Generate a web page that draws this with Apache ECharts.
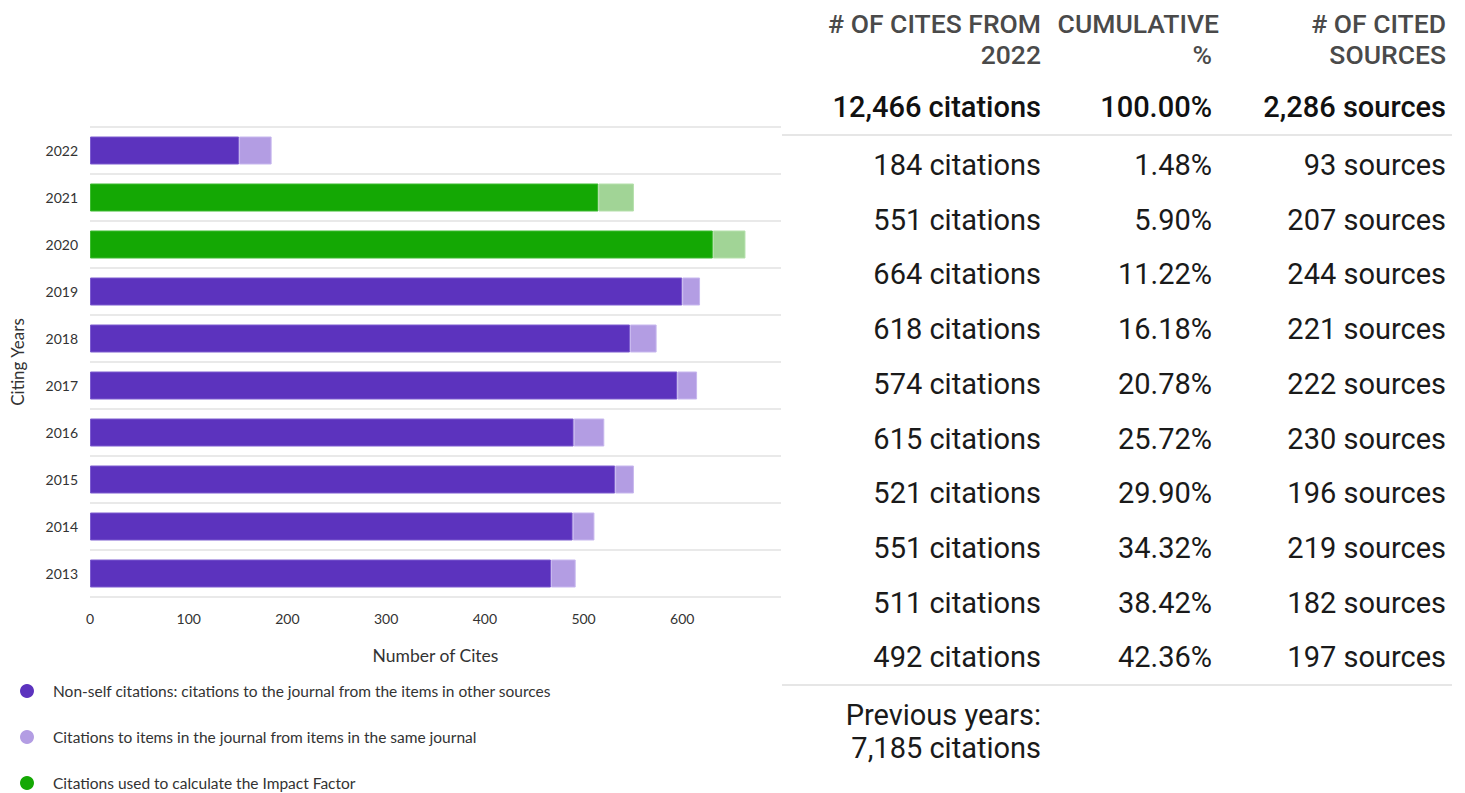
<!DOCTYPE html>
<html>
<head>
<meta charset="utf-8">
<style>
  html, body { margin: 0; padding: 0; background: #fff; }
  #chart { width: 1465px; height: 793px; }
</style>
<script src="https://cdn.jsdelivr.net/npm/echarts@6/dist/echarts.min.js"></script>
</head>
<body>
<div id="chart"></div>
<script>
// Citing years, listed top to bottom
const years = ['2022', '2021', '2020', '2019', '2018', '2017', '2016', '2015', '2014', '2013'];
// Total cites from 2022 to each year
const totalCites = [184, 551, 664, 618, 574, 615, 521, 551, 511, 492];
// Non-self citations per year
const nonSelfCites = [151, 515, 631, 600, 547, 595, 490, 532, 489, 467];
// Years counted in the Impact Factor
const impactYears = ['2021', '2020'];
// Table columns
const cumulativePct = ['1.48%', '5.90%', '11.22%', '16.18%', '20.78%', '25.72%', '29.90%', '34.32%', '38.42%', '42.36%'];
const citedSources = [93, 207, 244, 221, 222, 230, 196, 219, 182, 197];
const totalRow = ['12,466 citations', '100.00%', '2,286 sources'];
const previousYears = ['Previous years:', '7,185 citations'];
const xTicks = [0, 100, 200, 300, 400, 500, 600, 700];

const seriesNames = [
  'Non-self citations: citations to the journal from the items in other sources',
  'Citations to items in the journal from items in the same journal',
  'Citations used to calculate the Impact Factor'
];

const DARK_PURPLE = '#5c33be', LIGHT_PURPLE = '#b39de3';
const DARK_GREEN = '#14a804', LIGHT_GREEN = '#a1d496';

const selfCites = totalCites.map((t, i) => t - nonSelfCites[i]);

function styled(values, base, impact, border, impactBorder) {
  return values.map((v, i) => {
    const isImpact = impactYears.includes(years[i]);
    return {
      value: v,
      itemStyle: {
        color: isImpact ? impact : base,
        borderColor: isImpact ? impactBorder : border,
        borderWidth: 1
      }
    };
  });
}

const chart = echarts.init(document.getElementById('chart'), null, { renderer: 'svg' });

// Table on the right side
const FONT = 'Roboto, sans-serif';
const colRight = [1041, 1212, 1446];
const graphics = [];
function txt(s, x, y, size, color, weight) {
  graphics.push({
    type: 'text',
    style: {
      text: s, x: x, y: y, align: 'right', verticalAlign: 'middle',
      fontFamily: FONT, fontSize: size, fontWeight: weight || 'normal', fill: color
    }
  });
}
function hline(y) {
  graphics.push({
    type: 'line',
    shape: { x1: 782, y1: y, x2: 1452, y2: y },
    style: { stroke: '#e6e6e6', lineWidth: 2 }
  });
}
const HEAD = '#4a4a4a';
const BODY = '#1a1a1a';
txt('# OF CITES FROM', colRight[0], 23, 26.5, HEAD, 500);
txt('2022', colRight[0], 54, 26.5, HEAD, 500);
txt('CUMULATIVE', 1219, 23, 26.5, HEAD, 500);
txt('%', colRight[1], 54, 26.5, HEAD, 500);
txt('# OF CITED', colRight[2], 23, 26.5, HEAD, 500);
txt('SOURCES', colRight[2], 54, 26.5, HEAD, 500);
totalRow.forEach((s, c) => txt(s, colRight[c], 107, 29, '#111', 500));
hline(135);
years.forEach((y, i) => {
  const yy = 165 + i * 54.7;
  txt(totalCites[i] + ' citations', colRight[0], yy, 29, BODY);
  txt(cumulativePct[i], colRight[1], yy, 29, BODY);
  txt(citedSources[i] + ' sources', colRight[2], yy, 29, BODY);
});
hline(685);
txt(previousYears[0], colRight[0], 715, 29, BODY);
txt(previousYears[1], colRight[0], 748, 29, BODY);

const AX = '#333';
const CF = 'Lato, sans-serif';

chart.setOption({
  animation: false,
  textStyle: { fontFamily: CF },
  grid: { left: 90, right: 684, top: 127, bottom: 196, containLabel: false },
  legend: {
    orient: 'vertical',
    left: 20,
    top: 683,
    height: 140,
    padding: 0,
    itemWidth: 14,
    itemHeight: 14,
    itemGap: 30,
    icon: 'circle',
    selectedMode: false,
    data: seriesNames,
    textStyle: { fontFamily: CF, fontSize: 15.5, color: '#333', padding: [0, 0, 0, 14], lineHeight: 14 }
  },
  xAxis: {
    type: 'value',
    min: xTicks[0],
    max: xTicks[xTicks.length - 1],
    interval: 100,
    name: 'Number of Cites',
    nameLocation: 'middle',
    nameGap: 49,
    nameTextStyle: { fontFamily: CF, fontSize: 17.5, color: AX },
    axisLine: { show: false },
    axisTick: { show: false },
    splitLine: { show: false },
    axisLabel: { fontFamily: CF, fontSize: 14, color: AX, margin: 14, showMaxLabel: false }
  },
  yAxis: {
    type: 'category',
    data: years,
    inverse: true,
    name: 'Citing Years',
    nameLocation: 'middle',
    nameGap: 64,
    nameTextStyle: { fontFamily: CF, fontSize: 17, color: AX },
    axisLine: { show: false },
    axisTick: { show: false },
    splitLine: { show: true, interval: 0, lineStyle: { color: '#e2e2e2', width: 1.5 } },
    axisLabel: { fontFamily: CF, fontSize: 14, color: AX, margin: 12 }
  },
  series: [
    {
      name: seriesNames[0],
      type: 'bar',
      stack: 'cites',
      barWidth: 28,
      itemStyle: { color: DARK_PURPLE },
      data: styled(nonSelfCites, DARK_PURPLE, DARK_GREEN, '#7d5ccf', '#3dbb30')
    },
    {
      name: seriesNames[1],
      type: 'bar',
      stack: 'cites',
      barWidth: 28,
      itemStyle: { color: LIGHT_PURPLE },
      data: styled(selfCites, LIGHT_PURPLE, LIGHT_GREEN, '#c7b7ee', '#b5e0ab')
    },
    {
      name: seriesNames[2],
      type: 'bar',
      stack: 'cites',
      barWidth: 28,
      itemStyle: { color: DARK_GREEN },
      data: []
    }
  ],
  graphic: graphics
});
</script>
</body>
</html>
